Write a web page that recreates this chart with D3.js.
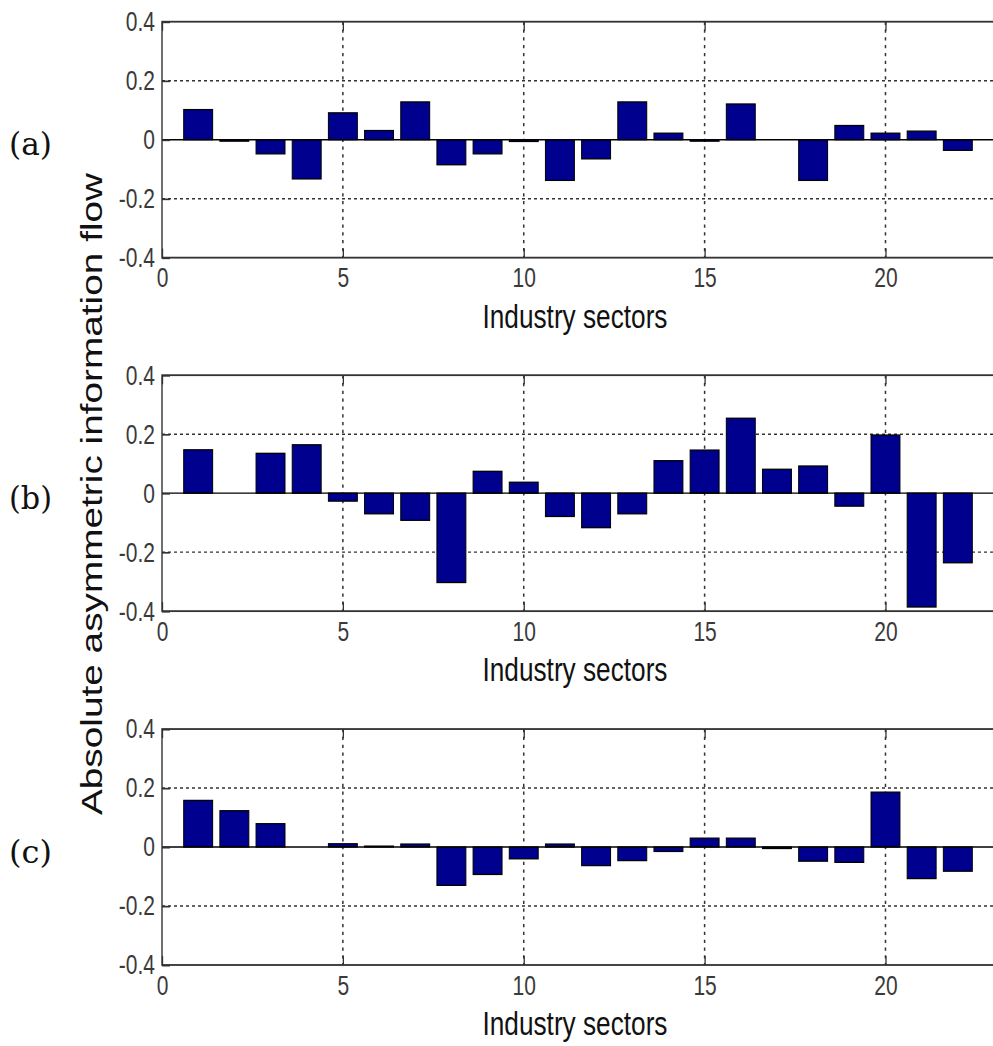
<!DOCTYPE html>
<html>
<head>
<meta charset="utf-8">
<script src="https://cdn.jsdelivr.net/npm/d3@7"></script>
<style>
  body { margin: 0; background: #fff; }
  svg { display: block; }
</style>
</head>
<body>
<script>
// sector numbers 1..22
const sectors = d3.range(1, 23);

const flowA = [0.102, -0.005, -0.048, -0.133, 0.091, 0.031, 0.128, -0.085, -0.048, -0.006, -0.138,
  -0.065, 0.128, 0.022, -0.005, 0.121, 0, -0.138, 0.048, 0.022, 0.029, -0.036];
const flowB = [0.147, 0, 0.135, 0.164, -0.027, -0.070, -0.092, -0.303, 0.074, 0.037, -0.079,
  -0.117, -0.070, 0.110, 0.146, 0.254, 0.081, 0.092, -0.044, 0.197, -0.386, -0.236];
const flowC = [0.158, 0.123, 0.079, 0, 0.011, 0.003, 0.010, -0.130, -0.093, -0.040, 0.010,
  -0.063, -0.046, -0.015, 0.030, 0.030, -0.005, -0.048, -0.052, 0.186, -0.107, -0.082];

const panelNames = ["(a)", "(b)", "(c)"];
const yTicks = [-0.4, -0.2, 0, 0.2, 0.4];
const xTicks = [0, 5, 10, 15, 20];

const width = 993;
const height = 1046;
const sy = 1.3; // the original figure is stretched vertically
const panelTops = [16.7, 288.6, 560.8];
const panelH = 181.5;

const svg = d3.select("body").append("svg")
  .attr("width", width)
  .attr("height", height);

const root = svg.append("g").attr("transform", `scale(1,${sy})`);

const x = d3.scaleLinear().domain([0, 23]).range([162, 994]);
const barW = x(0.8) - x(0);

const font = "'Liberation Sans', Arial, Helvetica, sans-serif";

[flowA, flowB, flowC].forEach((values, i) => {
  const top = panelTops[i];
  const bottom = top + panelH;
  const y = d3.scaleLinear().domain([-0.4, 0.4]).range([bottom, top]);

  const g = root.append("g");

  // grid
  g.append("g")
    .selectAll("line")
    .data([-0.2, 0.2])
    .join("line")
    .attr("x1", x(0))
    .attr("x2", x(23))
    .attr("y1", (d) => y(d))
    .attr("y2", (d) => y(d))
    .attr("stroke", "#333")
    .attr("stroke-width", 1.1)
    .attr("stroke-dasharray", "3,3");

  g.append("g")
    .selectAll("line")
    .data(xTicks.slice(1))
    .join("line")
    .attr("x1", (d) => x(d))
    .attr("x2", (d) => x(d))
    .attr("y1", top)
    .attr("y2", bottom)
    .attr("stroke", "#333")
    .attr("stroke-width", 1.5)
    .attr("stroke-dasharray", "2.5,3.5");

  // bars
  g.append("g")
    .selectAll("rect")
    .data(values.map((v, j) => ({ s: sectors[j], v })).filter((d) => d.v !== 0))
    .join("rect")
    .attr("x", (d) => x(d.s) - barW / 2)
    .attr("y", (d) => y(Math.max(0, d.v)))
    .attr("width", barW)
    .attr("height", (d) => Math.abs(y(d.v) - y(0)))
    .attr("fill", "#00008f")
    .attr("stroke", "#000")
    .attr("stroke-width", 1);

  // baseline
  g.append("line")
    .attr("x1", x(0))
    .attr("x2", x(23))
    .attr("y1", y(0))
    .attr("y2", y(0))
    .attr("stroke", "#000")
    .attr("stroke-width", 1.1);

  // axes
  g.append("g")
    .attr("transform", `translate(${x(0)},0)`)
    .call(d3.axisLeft(y).tickValues(yTicks).tickSize(-8).tickPadding(7).tickFormat((d) => String(d)));

  g.append("g")
    .attr("transform", `translate(0,${bottom})`)
    .call(d3.axisBottom(x).tickValues(xTicks).tickSize(-7).tickPadding(8));

  g.append("g")
    .attr("transform", `translate(0,${top})`)
    .call(d3.axisTop(x).tickValues(xTicks).tickSize(-7).tickFormat(""));

  g.selectAll(".domain").remove();
  g.selectAll(".tick line").attr("stroke", "#333").attr("stroke-width", 1.3);
  g.selectAll(".tick text")
    .attr("font-family", font)
    .attr("font-size", 21)
    .attr("fill", "#3a3a3a");

  // box
  g.append("rect")
    .attr("x", x(0))
    .attr("y", top)
    .attr("width", x(23) - x(0))
    .attr("height", panelH)
    .attr("fill", "none")
    .attr("stroke", "#333")
    .attr("stroke-width", 1.4);

  // x label
  g.append("text")
    .attr("x", 575)
    .attr("y", bottom + 54)
    .attr("text-anchor", "middle")
    .attr("font-family", font)
    .attr("font-size", 26)
    .attr("textLength", 185)
    .attr("lengthAdjust", "spacingAndGlyphs")
    .attr("fill", "#111")
    .text("Industry sectors");

  // panel letter
  g.append("text")
    .attr("x", 9)
    .attr("y", y(0) + 12)
    .attr("font-family", "'DejaVu Serif', serif")
    .attr("font-size", 24)
    .attr("textLength", 43)
    .attr("lengthAdjust", "spacingAndGlyphs")
    .attr("fill", "#111")
    .text(panelNames[i]);
});

// shared y label
root.append("text")
  .attr("transform", `translate(102,380) rotate(-90)`)
  .attr("text-anchor", "middle")
  .attr("font-family", font)
  .attr("font-size", 29.5)
  .attr("textLength", 494)
  .attr("lengthAdjust", "spacingAndGlyphs")
  .attr("fill", "#111")
  .text("Absolute asymmetric information flow");
</script>
</body>
</html>
